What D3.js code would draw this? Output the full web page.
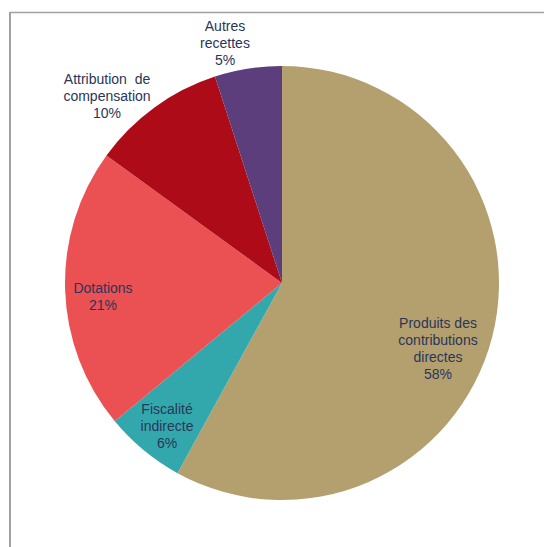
<!DOCTYPE html>
<html>
<head>
<meta charset="utf-8">
<script src="https://cdn.jsdelivr.net/npm/d3@7"></script>
<style>
  body { margin: 0; background: #fff; }
  svg { display: block; font-family: "Liberation Sans", Arial, sans-serif; }
</style>
</head>
<body>
<div id="chart"></div>
<script>
// slices, clockwise from 12 o'clock
const categories = [
    ["Produits des", "contributions", "directes"],
    ["Fiscalité", "indirecte"],
    ["Dotations"],
    ["Attribution  de", "compensation"],
    ["Autres", "recettes"]
];
const values = [58, 6, 21, 10, 5];
const colors = ["#b4a06e", "#33a8ac", "#eb5153", "#ad0b17", "#5b3e7b"];

// label block centres, offset from the pie centre
const labelOffsets = [[156, 66], [-115, 143], [-179, 14], [-175, -187], [-57, -240]];

const width = 544,
    height = 547;
const cx = 282, cy = 283, radius = 217;
const lineH = 17;

const svg = d3.select("#chart")
    .append("svg")
    .attr("width", width)
    .attr("height", height);

// frame lines (top + left)
svg.append("line")
    .attr("x1", 10).attr("x2", width)
    .attr("y1", 12.5).attr("y2", 12.5)
    .attr("stroke", "#a0a0a8").attr("stroke-width", 1.5);
svg.append("line")
    .attr("x1", 10).attr("x2", 10)
    .attr("y1", 12).attr("y2", height)
    .attr("stroke", "#a0a0a8").attr("stroke-width", 2);

const pie = d3.pie().sort(null).value(d => d);
const arcs = pie(values);

const arc = d3.arc().innerRadius(0).outerRadius(radius);

const g = svg.append("g").attr("transform", `translate(${cx},${cy})`);

g.selectAll("path")
    .data(arcs)
    .join("path")
    .attr("d", arc)
    .attr("fill", (d, i) => colors[i]);

const labels = g.selectAll("text")
    .data(arcs)
    .join("text")
    .attr("text-anchor", "middle")
    .attr("fill", "#2a3558")
    .attr("font-size", "14px")
    .attr("transform", (d, i) => `translate(${labelOffsets[i][0]},${labelOffsets[i][1]})`);

labels.each(function (d, i) {
    const lines = categories[i].concat([values[i] + "%"]);
    const t = d3.select(this);
    const top = -(lines.length - 1) * lineH / 2;
    lines.forEach((l, j) => {
        t.append("tspan")
            .attr("x", 0)
            .attr("y", top + j * lineH)
            .attr("dy", "0.35em")
            .attr("xml:space", "preserve")
            .style("white-space", "pre")
            .text(l);
    });
});
</script>
</body>
</html>
